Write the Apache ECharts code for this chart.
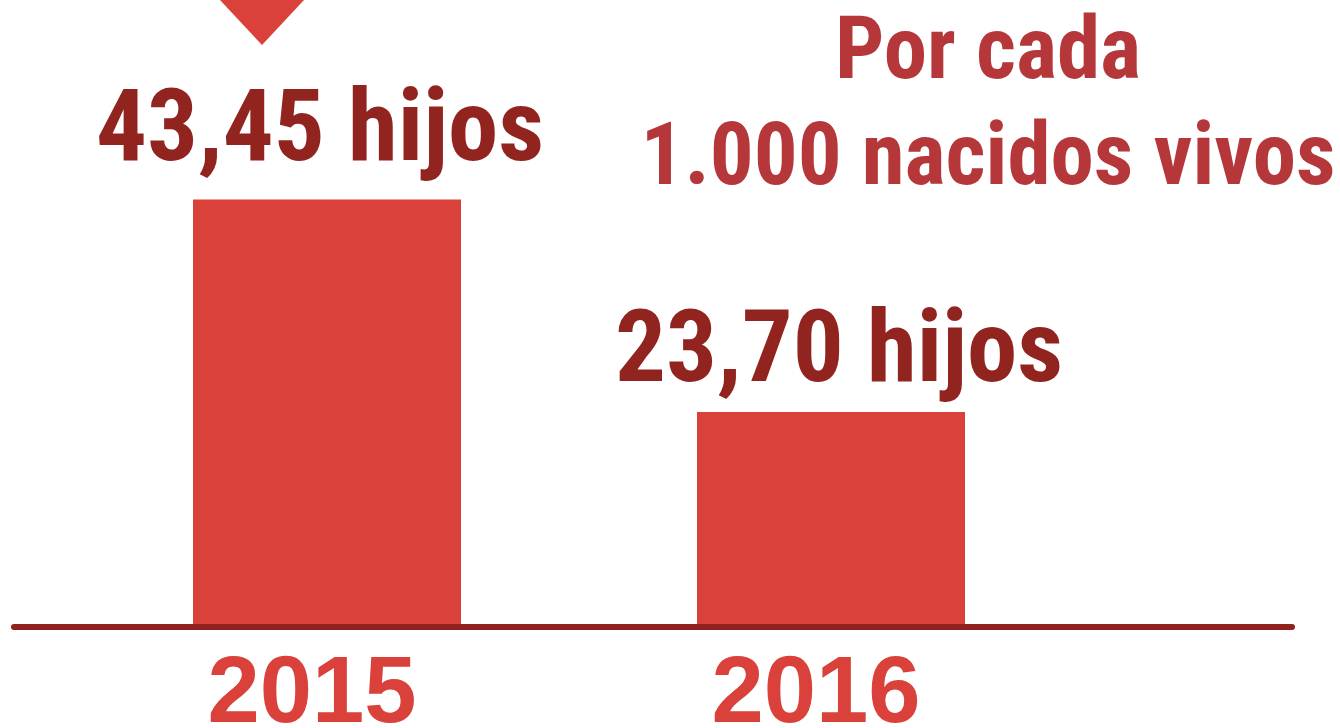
<!DOCTYPE html>
<html>
<head>
<meta charset="utf-8">
<script src="https://cdn.jsdelivr.net/npm/echarts@6/dist/echarts.min.js"></script>
<style>
  html, body { margin: 0; padding: 0; background: #fff; }
  #chart { width: 1340px; height: 728px; }
</style>
</head>
<body>
<div id="chart"></div>
<script>
// datos
var years = ['2015', '2016'];
var hijos = [43.45, 23.70];
var subtitle = 'Por cada\n1.000 nacidos vivos';

// pequeños ajustes de posicion de las etiquetas (px)
var labelOffset = [[-7, -8], [8, 0]];

var condensed = "'Roboto Condensed', 'Liberation Sans Narrow', 'DejaVu Sans Condensed', Roboto, sans-serif";

var option = {
    backgroundColor: '#fff',
    animation: false,
    title: {
        text: subtitle,
        left: 983,
        top: -2,
        textAlign: 'center',
        textStyle: {
            fontFamily: condensed,
            fontWeight: 'bold',
            fontSize: 87,
            lineHeight: 106,
            color: '#b5373a'
        }
    },
    grid: [
        {left: 75, width: 1008, top: 0, bottom: 104, outerBoundsMode: 'none'},
        // solo para la linea base, mas larga que las barras
        {left: 14, right: 48, top: 0, bottom: 101, outerBoundsMode: 'none'}
    ],
    xAxis: [
        {
            type: 'category',
            gridIndex: 0,
            data: years,
            axisLine: {show: false},
            axisTick: {show: false},
            axisLabel: {
                margin: 25,
                padding: [0, 30, 0, 0],
                fontFamily: "'Liberation Sans', Arial, sans-serif",
                fontWeight: 'bold',
                fontSize: 94,
                color: '#d9413a'
            }
        },
        {
            type: 'value',
            gridIndex: 1,
            min: 0,
            max: 1,
            axisLine: {show: true, lineStyle: {color: '#8f211e', width: 6}},
            axisTick: {show: false},
            axisLabel: {show: false},
            splitLine: {show: false}
        }
    ],
    yAxis: [
        {type: 'value', gridIndex: 0, min: 4, max: 62, show: false},
        {type: 'value', gridIndex: 1, show: false}
    ],
    graphic: [
        {
            type: 'polygon',
            shape: {points: [[220, 0], [304, 0], [262, 45]]},
            style: {fill: '#d9413a'}
        }
    ],
    series: [
        {
            type: 'bar',
            xAxisIndex: 0,
            yAxisIndex: 0,
            data: hijos.map(function (v, i) {
                return {value: v, label: {offset: labelOffset[i]}};
            }),
            barWidth: 268,
            itemStyle: {color: '#d9413a'},
            label: {
                show: true,
                position: 'top',
                distance: 6,
                fontFamily: condensed,
                fontWeight: 'bold',
                fontSize: 101,
                color: '#922420',
                formatter: function (p) {
                    return p.value.toFixed(2).replace('.', ',') + ' hijos';
                }
            }
        }
    ]
};

echarts.init(document.getElementById('chart')).setOption(option);
</script>
</body>
</html>
